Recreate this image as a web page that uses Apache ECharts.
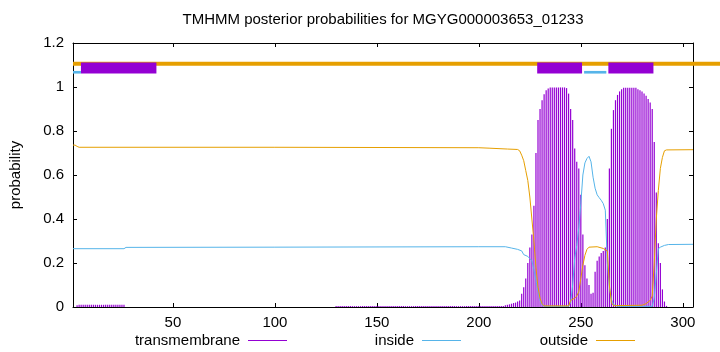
<!DOCTYPE html>
<html>
<head>
    <meta charset="utf-8">
    <title>TMHMM posterior probabilities</title>
    <script src="https://cdn.jsdelivr.net/npm/echarts@6/dist/echarts.min.js"></script>
    <style>
        html, body { margin: 0; padding: 0; background: #fff; }
        #main { width: 720px; height: 352px; }
    </style>
</head>
<body>
<div id="main"></div>
<script>
    // x tick labels (residue numbers)
    var xTicks = [50, 100, 150, 200, 250, 300];

    // transmembrane posterior, one value per residue starting at residue 1
    var tm = [
        0, 0, 0.008, 0.01, 0.01, 0.01, 0.01, 0.01, 0.01, 0.01,
        0.01, 0.01, 0.01, 0.01, 0.01, 0.01, 0.01, 0.01, 0.01, 0.01,
        0.01, 0.01, 0.01, 0.01, 0.01, 0.01, 0, 0, 0, 0,
        0, 0, 0, 0, 0, 0, 0, 0, 0, 0,
        0, 0, 0, 0, 0, 0, 0, 0, 0, 0,
        0, 0, 0, 0, 0, 0, 0, 0, 0, 0,
        0, 0, 0, 0, 0, 0, 0, 0, 0, 0,
        0, 0, 0, 0, 0, 0, 0, 0, 0, 0,
        0, 0, 0, 0, 0, 0, 0, 0, 0, 0,
        0, 0, 0, 0, 0, 0, 0, 0, 0, 0,
        0, 0, 0, 0, 0, 0, 0, 0, 0, 0,
        0, 0, 0, 0, 0, 0, 0, 0, 0, 0,
        0, 0, 0, 0, 0, 0, 0, 0, 0, 0.004,
        0.004, 0.004, 0.004, 0.004, 0.004, 0.004, 0.004, 0.004, 0.004, 0.004,
        0.004, 0.004, 0.004, 0.004, 0.004, 0.004, 0.004, 0.004, 0.004, 0.004,
        0.004, 0.004, 0.004, 0.004, 0.004, 0.004, 0.004, 0.004, 0.004, 0.004,
        0.004, 0.004, 0.004, 0.004, 0.004, 0.004, 0.004, 0.004, 0.004, 0.004,
        0.004, 0.004, 0.004, 0.004, 0.004, 0.004, 0.004, 0.004, 0.004, 0.004,
        0.004, 0.004, 0.004, 0.004, 0.004, 0.004, 0.004, 0.004, 0.004, 0.004,
        0.004, 0.004, 0.004, 0.004, 0.004, 0.004, 0.004, 0.004, 0.004, 0.004,
        0.004, 0.004, 0.004, 0.004, 0.004, 0.004, 0.004, 0.004, 0.004, 0.004,
        0.004, 0.004, 0.008, 0.01, 0.012, 0.015, 0.018, 0.02, 0.025, 0.03,
        0.06, 0.09, 0.13, 0.2, 0.27, 0.33, 0.46, 0.7, 0.85, 0.9,
        0.94, 0.967, 0.985, 0.993, 0.998, 0.998, 0.998, 0.998, 0.998, 0.998,
        0.998, 0.998, 0.995, 0.97, 0.9, 0.85, 0.72, 0.66, 0.63, 0.51,
        0.33, 0.19, 0.13, 0.1, 0.06, 0.065, 0.16, 0.21, 0.23, 0.245,
        0.255, 0.27, 0.4, 0.63, 0.81, 0.895, 0.94, 0.964, 0.98, 0.99,
        0.997, 0.997, 0.997, 0.997, 0.997, 0.997, 0.997, 0.99, 0.985, 0.98,
        0.97, 0.96, 0.945, 0.93, 0.9, 0.75, 0.52, 0.29, 0.2, 0.08,
        0.025, 0.005, 0, 0, 0, 0, 0, 0, 0, 0,
        0, 0, 0, 0, 0
    ];

    // inside / outside posteriors, [residue, probability] where the curve bends
    var inside = [
        [1, 0.265], [26, 0.265], [27, 0.271], [100, 0.272], [200, 0.274], [213, 0.274],
        [216, 0.268], [219, 0.262], [221, 0.255], [222, 0.238], [224, 0.23], [226, 0.21],
        [227, 0.17], [228, 0.12], [229, 0.07], [230, 0.03], [231, 0.01], [232, 0.003],
        [244, 0.003], [245, 0.02], [246, 0.1], [247, 0.22], [248, 0.28], [249, 0.36],
        [250, 0.47], [251, 0.6], [252, 0.655], [253, 0.675], [254, 0.685], [255, 0.66],
        [256, 0.59], [257, 0.54], [258, 0.51], [259, 0.497], [260, 0.485], [261, 0.47],
        [262, 0.44], [263, 0.2], [264, 0.09], [265, 0.035], [266, 0.012], [268, 0.003],
        [285, 0.003], [286, 0.04], [287, 0.15], [288, 0.265], [289, 0.272], [291, 0.28],
        [293, 0.284], [305, 0.285]
    ];
    var outside = [
        [1, 0.736], [2, 0.736], [3, 0.73], [4, 0.726], [100, 0.726], [200, 0.724],
        [205, 0.722], [214, 0.718], [219, 0.716], [220, 0.71], [221, 0.69], [222, 0.665],
        [223, 0.62], [224, 0.575], [225, 0.5], [226, 0.4], [227, 0.3], [228, 0.18],
        [229, 0.09], [230, 0.04], [231, 0.015], [232, 0.005], [244, 0.005], [245, 0.03],
        [247, 0.04], [248, 0.05], [249, 0.07], [250, 0.13], [251, 0.19], [252, 0.235],
        [253, 0.262], [254, 0.272], [258, 0.274], [261, 0.266], [263, 0.255], [264, 0.1],
        [265, 0.02], [266, 0.006], [280, 0.008], [282, 0.015], [284, 0.03], [285, 0.05],
        [286, 0.2], [287, 0.4], [288, 0.53], [289, 0.63], [290, 0.68], [291, 0.71],
        [292, 0.714], [305, 0.715]
    ];

    // predicted topology along the top: [from, to]
    var tmSegs = [[4.9, 41.9], [228.6, 250.6], [263.5, 285.6]];
    var inSegs = [[1, 4.9], [251.6, 262.5]];
    var outSegs = [[1, 320]];

    var PURPLE = '#9400D3', BLUE = '#56B4E9', ORANGE = '#E69F00';
    var FONT = 'Liberation Sans';
    var FS = 15;

    function segRenderer(yLo, yHi, color) {
        return function (params, api) {
            var p0 = api.coord([api.value(0), yHi]);
            var p1 = api.coord([api.value(1), yLo]);
            return {
                type: 'rect',
                shape: { x: p0[0], y: p0[1], width: p1[0] - p0[0], height: p1[1] - p0[1] },
                style: { fill: color }
            };
        };
    }

    var tmData = tm.map(function (v, i) { return [i + 1, v]; });

    var chart = echarts.init(document.getElementById('main'), null, { renderer: 'canvas' });

    var axisBase = {
        type: 'value',
        min: 1,
        max: 305,
        axisLine: { show: true, onZero: false, lineStyle: { color: '#000', width: 1 } },
        splitLine: { show: false }
    };

    chart.setOption({
        animation: false,
        textStyle: { fontFamily: FONT },
        title: {
            text: 'TMHMM posterior probabilities for MGYG000003653_01233',
            left: 383,
            textAlign: 'center',
            top: 12,
            padding: 0,
            textStyle: { fontFamily: FONT, fontSize: FS, fontWeight: 'normal', color: '#000' }
        },
        grid: { left: 73, right: 27, top: 43, bottom: 45, show: false },
        legend: [
            { data: ['transmembrane'], right: 433, top: 333 },
            { data: ['inside'], right: 259, top: 333 },
            { data: ['outside'], right: 85, top: 333 }
        ].map(function (l) {
            l.align = 'right';
            l.padding = 0;
            l.icon = 'rect';
            l.itemWidth = 39;
            l.itemHeight = 1;
            l.selectedMode = false;
            l.textStyle = { fontFamily: FONT, fontSize: FS, color: '#000', padding: [0, 3, 0, 0] };
            return l;
        }),
        xAxis: [
            Object.assign({}, axisBase, {
                position: 'bottom',
                axisTick: { show: true, inside: true, length: 4, customValues: xTicks, lineStyle: { color: '#000' } },
                axisLabel: { show: true, customValues: xTicks, margin: 8, fontSize: FS, color: '#000', fontFamily: FONT }
            }),
            Object.assign({}, axisBase, {
                position: 'top',
                axisTick: { show: true, inside: true, length: 4, customValues: xTicks, lineStyle: { color: '#000' } },
                axisLabel: { show: false }
            })
        ],
        yAxis: [
            {
                type: 'value', min: 0, max: 1.2, interval: 0.2, position: 'left',
                name: 'probability', nameLocation: 'middle', nameGap: 50,
                nameTextStyle: { fontSize: FS, color: '#000', fontFamily: FONT },
                axisLine: { show: true, onZero: false, lineStyle: { color: '#000', width: 1 } },
                axisTick: { show: true, inside: true, length: 4, lineStyle: { color: '#000' } },
                axisLabel: { margin: 9, fontSize: FS, color: '#000', fontFamily: FONT },
                splitLine: { show: false }
            },
            {
                type: 'value', min: 0, max: 1.2, interval: 0.2, position: 'right',
                axisLine: { show: true, onZero: false, lineStyle: { color: '#000', width: 1 } },
                axisTick: { show: true, inside: true, length: 4, lineStyle: { color: '#000' } },
                axisLabel: { show: false },
                splitLine: { show: false }
            }
        ],
        series: [
            {
                name: 'transmembrane', type: 'bar', data: tmData,
                barWidth: 1.2, barGap: '-100%',
                itemStyle: { color: PURPLE }, large: false
            },
            {
                name: 'inside', type: 'line', data: inside, symbol: 'none',
                lineStyle: { color: BLUE, width: 1 }, itemStyle: { color: BLUE }
            },
            {
                name: 'outside', type: 'line', data: outside, symbol: 'none',
                lineStyle: { color: ORANGE, width: 1 }, itemStyle: { color: ORANGE }
            },
            {
                type: 'custom', data: outSegs, clip: false, silent: true,
                renderItem: segRenderer(1.097, 1.115, ORANGE)
            },
            {
                type: 'custom', data: tmSegs, clip: false, silent: true,
                renderItem: segRenderer(1.061, 1.111, PURPLE)
            },
            {
                type: 'custom', data: inSegs, clip: false, silent: true,
                renderItem: segRenderer(1.061, 1.073, BLUE)
            }
        ]
    });
</script>
</body>
</html>
